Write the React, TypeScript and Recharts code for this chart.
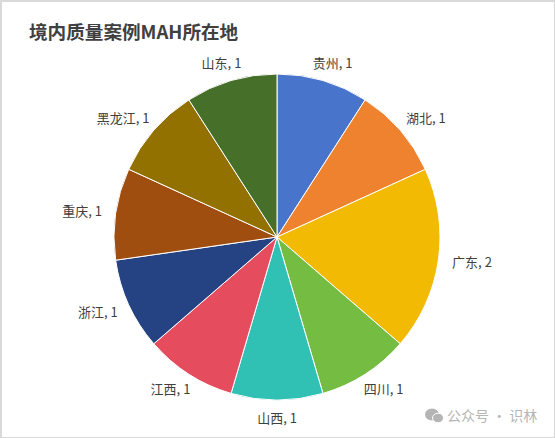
import { Cell, Pie, PieChart } from 'recharts';

const provinces = ['贵州', '湖北', '广东', '四川', '山西', '江西', '浙江', '重庆', '黑龙江', '山东'];
const caseCounts = [1, 1, 2, 1, 1, 1, 1, 1, 1, 1];
const sliceColors = [
  '#4874CB',
  '#EE822F',
  '#F2BA02',
  '#75BD42',
  '#30C0B4',
  '#E54C5E',
  '#254282',
  '#A04D10',
  '#927100',
  '#46702A',
];

const chartData = provinces.map((name, i) => ({ name, value: caseCounts[i] }));

const RADIAN = Math.PI / 180;
const FONT = '"Noto Sans CJK SC", "Noto Sans", sans-serif';

// labels sit further out at the sides than at the top and bottom,
// and longer names get pushed out a bit more
const renderLabel = (props: any) => {
  const { cx, cy, midAngle, outerRadius, name, value } = props;
  const extra = (name.length - 2) * 6.5;
  const x = cx + (outerRadius + 34 + extra) * Math.cos(-midAngle * RADIAN);
  const y = cy + (outerRadius + 18) * Math.sin(-midAngle * RADIAN) - 1;
  return (
    <text
      x={x}
      y={y}
      textAnchor='middle'
      dominantBaseline='central'
      fontSize={13}
      fontFamily={FONT}
      fill='#404040'
    >
      {`${name}, ${value}`}
    </text>
  );
};

const App = () => {
  return (
    <div
      style={{
        position: 'absolute',
        left: 0,
        top: 0,
        width: 555,
        height: 438,
        background: '#fff',
        overflow: 'hidden',
      }}
    >
      <PieChart width={555} height={438} margin={{ top: 0, right: 0, bottom: 0, left: 0 }}>
        <Pie
          data={chartData}
          dataKey='value'
          nameKey='name'
          cx={277}
          cy={237}
          outerRadius={163}
          startAngle={90}
          endAngle={-270}
          stroke='#fff'
          strokeWidth={1}
          label={renderLabel}
          labelLine={false}
          isAnimationActive={false}
        >
          {chartData.map((_, index) => (
            <Cell key={`cell-${index}`} fill={sliceColors[index]} />
          ))}
        </Pie>
      </PieChart>

      {/* Frame */}
      <div
        style={{
          position: 'absolute',
          inset: 0,
          boxSizing: 'border-box',
          border: '1px solid #d9d9d9',
          borderLeftWidth: 2,
          borderTopWidth: 2,
          pointerEvents: 'none',
        }}
      />

      {/* Title */}
      <div
        style={{
          position: 'absolute',
          left: 29,
          top: 19,
          fontFamily: FONT,
          fontSize: 18.6,
          lineHeight: '24px',
          fontWeight: 700,
          color: '#404040',
          whiteSpace: 'nowrap',
        }}
      >
        境内质量案例MAH所在地
      </div>

      {/* Watermark */}
      <svg
        width={20}
        height={16}
        style={{ position: 'absolute', left: 424, top: 408 }}
      >
        <ellipse cx={8} cy={6.5} rx={7} ry={6} fill='#b5b5b5' />
        <ellipse cx={14} cy={10} rx={5.5} ry={4.8} fill='#b5b5b5' stroke='#fff' strokeWidth={1} />
      </svg>
      <div
        style={{
          position: 'absolute',
          left: 447,
          top: 405,
          fontFamily: FONT,
          fontSize: 14,
          lineHeight: '20px',
          color: '#b5b5b5',
          whiteSpace: 'nowrap',
        }}
      >
        公众号 · 识林
      </div>
    </div>
  );
};

export default App;
